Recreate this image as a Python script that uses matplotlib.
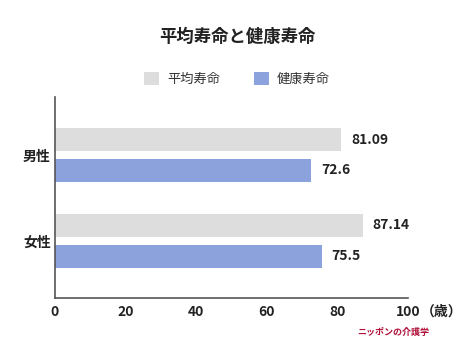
import matplotlib.pyplot as plt
import numpy as np

plt.rcParams['font.family'] = ['Noto Sans CJK JP', 'DejaVu Sans']

categories = ['男性', '女性']
series_names = ['平均寿命', '健康寿命']
avg_life = [81.09, 87.14]
healthy_life = [72.6, 75.5]
value_labels_avg = ['81.09', '87.14']
value_labels_healthy = ['72.6', '75.5']
x_ticks = [0, 20, 40, 60, 80, 100]

grey = '#DDDDDD'
blue = '#8BA2DC'

fig = plt.figure(figsize=(4.74, 3.55), dpi=100)
ax = fig.add_axes([0.116, 0.1606, 0.745, 0.566])

y = np.arange(len(categories))
h = 0.26
off = 0.18
ax.barh(y - off, avg_life, height=h, color=grey, label=series_names[0])
ax.barh(y + off, healthy_life, height=h, color=blue, label=series_names[1])

# value labels at bar ends
for yi, v, s in zip(y, avg_life, value_labels_avg):
    ax.annotate(s, (v, yi - off), xytext=(7, 0), textcoords='offset points',
                va='center', ha='left', fontsize=10, fontweight='bold', color='#222222')
for yi, v, s in zip(y, healthy_life, value_labels_healthy):
    ax.annotate(s, (v, yi + off), xytext=(7, 0), textcoords='offset points',
                va='center', ha='left', fontsize=10, fontweight='bold', color='#222222')

ax.set_xlim(0, 100)
ax.set_ylim(1.665, -0.675)
ax.set_xticks(x_ticks)
ax.set_xticklabels([str(t) for t in x_ticks], fontsize=10, fontweight='bold', color='#222222')
ax.set_yticks(y)
ax.set_yticklabels(categories, fontsize=10, fontweight='bold', color='#222222')
ax.tick_params(length=0)
ax.tick_params(axis='x', pad=5)
ax.tick_params(axis='y', pad=3)
for s in ['top', 'right']:
    ax.spines[s].set_visible(False)
for s in ['left', 'bottom']:
    ax.spines[s].set_color('#555555')
    ax.spines[s].set_linewidth(1.2)

# unit label after the last tick
ax.annotate('（歳）', (100, 0), xycoords=('data', 'axes fraction'), xytext=(9, -5),
            textcoords='offset points', va='top', ha='left', fontsize=10,
            fontweight='bold', color='#222222')

fig.text(0.5, 0.897, '平均寿命と健康寿命', ha='center', va='center',
         fontsize=12.5, fontweight='bold', color='#222222')

fig.legend(loc='center', bbox_to_anchor=(0.5, 0.778), ncol=2, frameon=False,
           fontsize=9.5, handlelength=1.1, handleheight=1.1, columnspacing=2.6,
           handletextpad=0.6)
for t in fig.legends[0].get_texts():
    t.set_color('#333333')

# small site mark, bottom right
fig.text(0.905, 0.065, 'ニッポンの介護学', ha='right', va='center',
         fontsize=6.5, fontweight='bold', color='#B0123A')

fig.savefig('out.png', dpi=100, facecolor='white')
